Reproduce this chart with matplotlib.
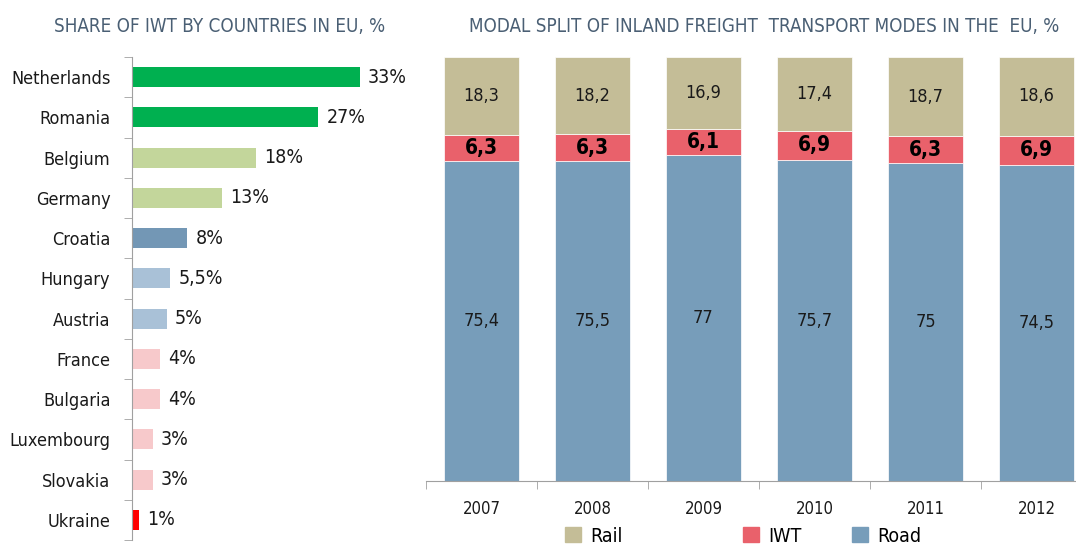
import matplotlib
matplotlib.use("Agg")
import matplotlib.pyplot as plt
from matplotlib import font_manager
from matplotlib.patches import Patch

# pick a narrow font if one is there
names = set(f.name for f in font_manager.fontManager.ttflist)
if "Liberation Sans Narrow" in names:
    FONT = "Liberation Sans Narrow"
    STRETCH = "normal"
else:
    FONT = "DejaVu Sans"
    STRETCH = "condensed"
plt.rcParams["font.family"] = FONT
plt.rcParams["font.stretch"] = STRETCH

# left chart data
countries = ["Netherlands", "Romania", "Belgium", "Germany", "Croatia", "Hungary",
             "Austria", "France", "Bulgaria", "Luxembourg", "Slovakia", "Ukraine"]
shares = [33, 27, 18, 13, 8, 5.5, 5, 4, 4, 3, 3, 1]
share_labels = ["33%", "27%", "18%", "13%", "8%", "5,5%", "5%", "4%", "4%", "3%", "3%", "1%"]
share_colors = ["#00b050", "#00b050", "#c3d69b", "#c3d69b", "#7397b5", "#a9c1d7",
                "#a9c1d7", "#f7c9cb", "#f7c9cb", "#f7c9cb", "#f7c9cb", "#ff0000"]

# right chart data
years = ["2007", "2008", "2009", "2010", "2011", "2012"]
road = [75.4, 75.5, 77, 75.7, 75, 74.5]
iwt = [6.3, 6.3, 6.1, 6.9, 6.3, 6.9]
rail = [18.3, 18.2, 16.9, 17.4, 18.7, 18.6]

title_col = "#4a5f74"
W, H = 1076, 546
fig = plt.figure(figsize=(W / 100, H / 100), dpi=100)

# ---- left: horizontal bars
ax1 = fig.add_axes([132 / W, (H - 540) / H, (408 - 132) / W, (540 - 57) / H])
ypos = list(range(len(countries)))
ax1.barh(ypos, shares, height=0.5, color=share_colors)
for y, v, lab in zip(ypos, shares, share_labels):
    ax1.text(v + 1.2, y, lab, va="center", ha="left", fontsize=14, color="#1a1a1a")
ax1.set_ylim(len(countries) - 0.5, -0.5)
ax1.set_xlim(0, 40)
ax1.set_yticks(ypos)
ax1.set_yticklabels(countries, fontsize=13, color="#1a1a1a")
ax1.set_yticks([i - 0.5 for i in range(len(countries) + 1)], minor=True)
ax1.tick_params(axis="y", which="major", length=0, pad=15.5)
ax1.tick_params(axis="y", which="minor", length=6, color="#a0a0a0")
ax1.set_xticks([])
for s in ["top", "right", "bottom"]:
    ax1.spines[s].set_visible(False)
ax1.spines["left"].set_color("#a0a0a0")
fig.text(220 / W, 1 - 27 / H, "SHARE OF IWT BY COUNTRIES IN EU, %", ha="center", va="center",
         fontsize=13.5, color=title_col)

# ---- right: stacked 100% bars
ax2 = fig.add_axes([426 / W, (H - 481) / H, 666 / W, 424 / H])
x = list(range(len(years)))
bottoms2 = road
bottoms3 = [a + b for a, b in zip(road, iwt)]
ax2.bar(x, road, width=0.67, color="#779dba", edgecolor="white", linewidth=0.5, label="Road")
ax2.bar(x, iwt, width=0.67, bottom=bottoms2, color="#e9616b", edgecolor="white", linewidth=0.5, label="IWT")
ax2.bar(x, rail, width=0.67, bottom=bottoms3, color="#c4bd97", edgecolor="white", linewidth=0.5, label="Rail")
for i in x:
    ax2.text(i, road[i] / 2, f"{road[i]:g}".replace(".", ","), ha="center", va="center",
             fontsize=13, color="#1a1a1a")
    ax2.text(i, road[i] + iwt[i] / 2, f"{iwt[i]:g}".replace(".", ","), ha="center", va="center",
             fontsize=15, fontweight="bold", color="black")
    ax2.text(i, bottoms3[i] + rail[i] / 2, f"{rail[i]:g}".replace(".", ","), ha="center", va="center",
             fontsize=13, color="#1a1a1a")
ax2.set_xlim(-0.5, len(years) - 0.5)
ax2.set_ylim(0, 100)
ax2.set_yticks([])
ax2.set_xticks(x)
ax2.set_xticklabels(years, fontsize=12, color="#1a1a1a")
ax2.set_xticks([i - 0.5 for i in range(len(years) + 1)], minor=True)
ax2.tick_params(axis="x", which="major", length=0, pad=14)
ax2.tick_params(axis="x", which="minor", length=6, color="#a0a0a0")
for s in ["top", "right", "left"]:
    ax2.spines[s].set_visible(False)
ax2.spines["bottom"].set_color("#a0a0a0")
fig.text(764 / W, 1 - 27 / H, "MODAL SPLIT OF INLAND FREIGHT  TRANSPORT MODES IN THE  EU, %",
         ha="center", va="center", fontsize=13.5, color=title_col)

# legend items sit at uneven spots in the original, so one legend each
legend_items = [("Rail", "#c4bd97", 565), ("IWT", "#e9616b", 743), ("Road", "#779dba", 852)]
for lab, col, xp in legend_items:
    fig.legend(handles=[Patch(color=col, label=lab)], loc="center left",
               bbox_to_anchor=(xp / W, 1 - 536 / H), frameon=False, fontsize=14,
               handlelength=0.8, handleheight=0.8, handletextpad=0.5,
               borderpad=0, borderaxespad=0)

fig.savefig("out.png", dpi=100)
